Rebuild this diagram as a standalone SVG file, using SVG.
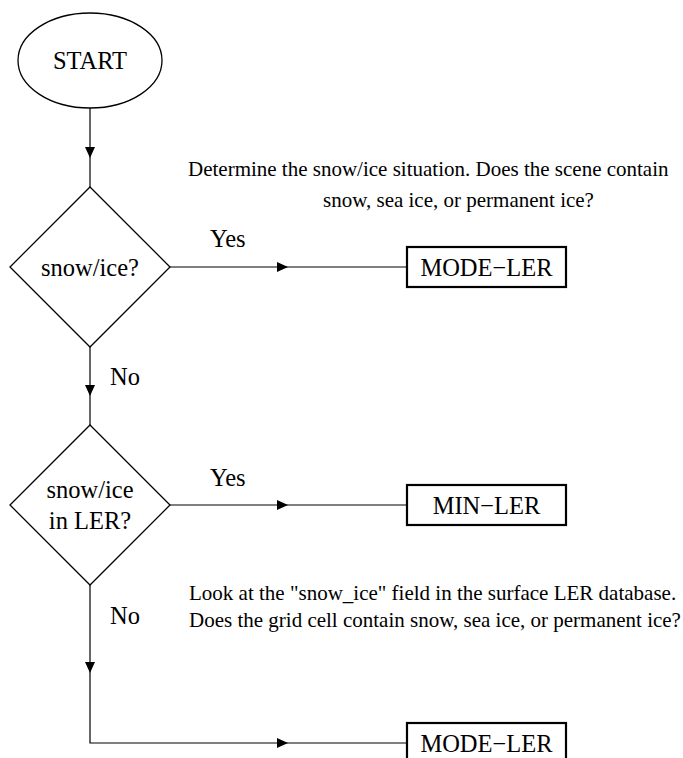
<svg xmlns="http://www.w3.org/2000/svg" width="683" height="758" viewBox="0 0 683 758">
<defs>
<marker id="ah" viewBox="0 0 11 10" refX="11" refY="5" markerWidth="11" markerHeight="10" markerUnits="userSpaceOnUse" orient="auto">
<path d="M0,0 L11,5 L0,10 Z" fill="#000"/>
</marker>
<style>
.t{font-family:"Liberation Serif","Times New Roman",serif;fill:#000}
.lbl{font-size:24.5px}
.note{font-size:21px}
.ln{fill:none;stroke:#000;stroke-width:1.2}
.shape{fill:#fff;stroke:#000;stroke-width:1.3}
.box{fill:#fff;stroke:#000;stroke-width:2.2}
</style>
</defs>
<rect width="683" height="758" fill="#fff"/>
<g id="connectors">
<path class="ln" d="M90,108 V158" marker-end="url(#ah)"/>
<path class="ln" d="M90,158 V187"/>
<path class="ln" d="M170,267 H288" marker-end="url(#ah)"/>
<path class="ln" d="M288,267 H407"/>
<path class="ln" d="M90,347 V396" marker-end="url(#ah)"/>
<path class="ln" d="M90,396 V425"/>
<path class="ln" d="M170,505 H288" marker-end="url(#ah)"/>
<path class="ln" d="M288,505 H407"/>
<path class="ln" d="M90,585 V673" marker-end="url(#ah)"/>
<path class="ln" d="M90,673 V743 H288" marker-end="url(#ah)"/>
<path class="ln" d="M288,743 H407"/>
<text class="t lbl" x="210" y="247">Yes</text>
<text class="t lbl" x="110" y="385">No</text>
<text class="t lbl" x="210" y="486">Yes</text>
<text class="t lbl" x="110" y="624">No</text>
</g>
<g id="start">
<ellipse class="shape" cx="90" cy="60.5" rx="72" ry="47.5"/>
<text class="t lbl" x="90" y="69" text-anchor="middle">START</text>
</g>
<g id="decision1">
<polygon class="shape" points="90,187 170,267 90,347 10,267"/>
<text class="t lbl" x="90" y="276" text-anchor="middle">snow/ice?</text>
</g>
<g id="mode-ler-1">
<rect class="box" x="407" y="247" width="159" height="40"/>
<text class="t lbl" x="486.5" y="276" text-anchor="middle">MODE−LER</text>
</g>
<g id="decision2">
<polygon class="shape" points="90,425 170,505 90,585 10,505"/>
<text class="t lbl" x="90" y="498" text-anchor="middle">snow/ice</text>
<text class="t lbl" x="90" y="529" text-anchor="middle">in LER?</text>
</g>
<g id="min-ler">
<rect class="box" x="407" y="485" width="159" height="40"/>
<text class="t lbl" x="486.5" y="514" text-anchor="middle">MIN−LER</text>
</g>
<g id="mode-ler-2">
<rect class="box" x="407" y="723" width="159" height="40"/>
<text class="t lbl" x="486.5" y="752" text-anchor="middle">MODE−LER</text>
</g>
<g id="note1">
<text class="t note" x="188" y="176">Determine the snow/ice situation. Does the scene contain</text>
<text class="t note" x="323" y="207">snow, sea ice, or permanent ice?</text>
</g>
<g id="note2">
<text class="t note" x="189" y="600">Look at the "snow_ice" field in the surface LER database.</text>
<text class="t note" x="189" y="627">Does the grid cell contain snow, sea ice, or permanent ice?</text>
</g>
</svg>
